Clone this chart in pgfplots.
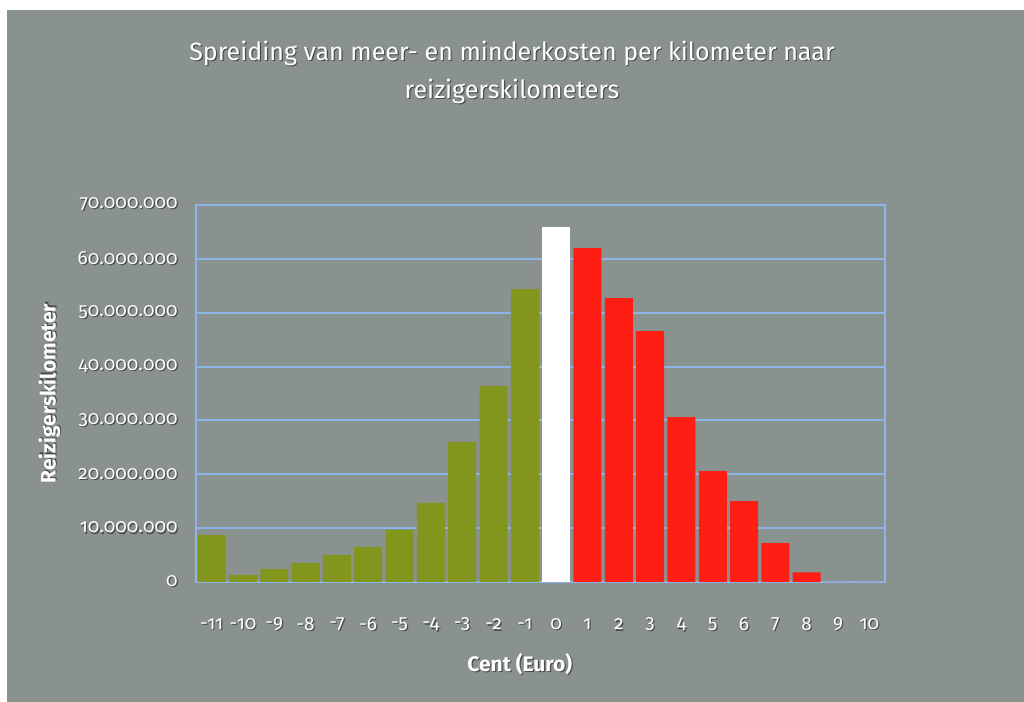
\documentclass[border=0pt]{standalone}
\usepackage{pgfplots}
\pgfplotsset{compat=1.18}
\usepackage{fontspec}
\setmainfont{Fira Sans}[Numbers=OldStyle]
\definecolor{bg}{HTML}{89928F}
\definecolor{olive}{HTML}{82961E}
\definecolor{barred}{HTML}{FF1E14}
\definecolor{gridblue}{HTML}{8CB4E6}
% white text with a dark drop shadow, as in the scan
\newcommand\sh[1]{\leavevmode\rlap{\kern0.6pt\raisebox{-0.6pt}{\color{black!70}#1}}{\color{white}#1}}

\begin{document}
\begin{tikzpicture}
\useasboundingbox (0,0) rectangle (512pt,351pt);
\fill[white] (0,0) rectangle (512pt,351pt);
\fill[bg] (3.5pt,0) rectangle (512pt,346pt);
\node[font=\fontsize{12.5}{15}\selectfont\fontseries{l}\selectfont] at (256pt,324pt) {\sh{Spreiding van meer- en minderkosten per kilometer naar}};
\node[font=\fontsize{12.5}{15}\selectfont\fontseries{l}\selectfont] at (256pt,305pt) {\sh{reizigerskilometers}};
\begin{axis}[
    at={(98pt,60pt)}, anchor=south west,
    scale only axis, width=344.5pt, height=188.5pt,
    ybar, bar width=14pt,
    xmin=-11.5, xmax=10.5,
    ymin=0, ymax=70000000,
    xtick={-11,...,10},
    ytick={0,10000000,...,70000000},
    xticklabel={\sh{\pgfmathprintnumber{\tick}}},
    yticklabel={\sh{\pgfmathprintnumber{\tick}}},
    scaled ticks=false,
    /pgf/number format/.cd, fixed, precision=0, 1000 sep={.}, assume math mode=true,
    /pgfplots/.cd,
    major tick length=0pt,
    tick label style={font=\fontsize{9.5}{11}\selectfont},
    xticklabel style={anchor=center, inner sep=0pt, yshift=-21.5pt},
    yticklabel style={anchor=east, inner sep=0pt, xshift=-9pt},
    axis line style={gridblue, line width=1pt},
    ymajorgrids, grid style={gridblue, line width=1pt},
    xlabel={\sh{Cent (Euro)}},
    ylabel={\sh{Reizigerskilometer}},
    label style={font=\fontsize{10.5}{12}\selectfont\bfseries},
    xlabel style={at={(axis description cs:0.47,-0.22)}, anchor=center},
    ylabel style={at={(axis description cs:-0.212,0.5)}, anchor=center},
]
\addplot[fill=olive, draw=none, bar shift=0pt] coordinates {
(-11,8700000) (-10,1300000) (-9,2400000) (-8,3500000) (-7,5000000) (-6,6500000)
(-5,9700000) (-4,14700000) (-3,26000000) (-2,36400000) (-1,54400000)};
\addplot[fill=white, draw=none, bar shift=0pt] coordinates {(0,65900000)};
\addplot[fill=barred, draw=none, bar shift=0pt] coordinates {
(1,62000000) (2,52700000) (3,46600000) (4,30600000) (5,20600000) (6,15000000)
(7,7200000) (8,1800000) (9,0) (10,0)};
\end{axis}
\end{tikzpicture}
\end{document}
